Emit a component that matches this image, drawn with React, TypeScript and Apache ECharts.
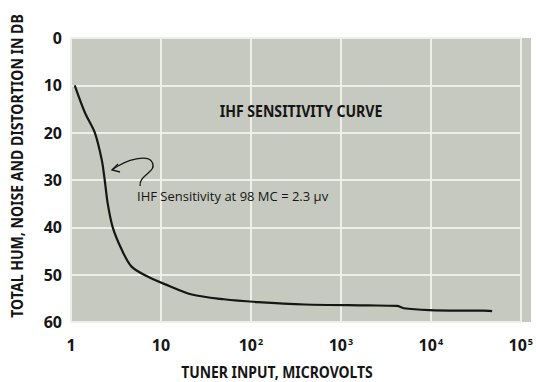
import React, { useEffect, useRef } from "react";
import * as echarts from "echarts";

const inputMicrovolts = [1.1, 1.43, 1.84, 2.2, 2.37, 2.56, 2.91, 3.66, 4.71, 7.1, 11, 22, 50, 120, 400, 2000, 4200, 5000, 9600, 20000, 38000, 48000];
const distortionDb = [10, 15.8, 20, 25.8, 30, 35, 40, 44.7, 48.3, 50.4, 52, 54.2, 55.2, 55.8, 56.3, 56.5, 56.6, 57.1, 57.5, 57.6, 57.6, 57.7];
const yTicks = [0, 10, 20, 30, 40, 50, 60];
const xTicks = [1, 10, 100, 1000, 10000, 100000];

const yTitle = "TOTAL HUM, NOISE AND DISTORTION IN DB";
const xTitle = "TUNER INPUT, MICROVOLTS";
const heading = "IHF SENSITIVITY CURVE";
const note = "IHF Sensitivity at 98 MC = 2.3 \u03bcv";

const BOLD = '"Noto Sans", "Open Sans", "DejaVu Sans", sans-serif';
const INK = "#151515";
const PAPER = "#c6c9c0";

export default function App() {
  const ref = useRef<HTMLDivElement>(null);
  useEffect(() => {
    if (!ref.current) return;
    const chart = echarts.init(ref.current, null, { renderer: "svg" });
    chart.setOption({
      animation: false,
      backgroundColor: "#ffffff",
      grid: {
        left: 71,
        top: 38,
        right: 11,
        bottom: 60,
        show: true,
        backgroundColor: PAPER,
        borderWidth: 0,
      },
      xAxis: {
        type: "log",
        logBase: 10,
        min: xTicks[0],
        max: xTicks[xTicks.length - 1],
        axisLine: { show: false },
        axisTick: { show: false },
        splitLine: { show: true, lineStyle: { color: "#efefe9", width: 2 } },
        minorSplitLine: { show: false },
        axisLabel: {
          margin: 15,
          color: INK,
          fontFamily: BOLD,
          fontWeight: "bold",
          fontSize: 16,
          formatter: (v: number) => {
            const e = Math.round(Math.log10(v));
            if (e === 0) return "1";
            if (e === 1) return "10";
            return "10{s|" + e + "}";
          },
          rich: {
            s: { fontSize: 9, fontFamily: BOLD, fontWeight: "bold", color: INK, verticalAlign: "top", padding: [0, 0, 6, 1] },
          },
        },
      },
      yAxis: {
        type: "value",
        inverse: true,
        min: yTicks[0],
        max: yTicks[yTicks.length - 1],
        interval: 10,
        axisLine: { show: false },
        axisTick: { show: false },
        splitLine: { show: true, lineStyle: { color: "#efefe9", width: 2 } },
        axisLabel: {
          margin: 9,
          color: INK,
          fontFamily: BOLD,
          fontWeight: "bold",
          fontSize: 16,
        },
      },
      series: [
        {
          type: "line",
          data: inputMicrovolts.map((x, i) => [x, distortionDb[i]]),
          smooth: 0.3,
          symbol: "none",
          lineStyle: { color: INK, width: 2.2 },
          z: 5,
        },
      ],
      graphic: [
        { type: "rect", z: -1, shape: { x: 520, y: 38, width: 11, height: 284 }, style: { fill: PAPER } },
        {
          type: "text",
          x: 17,
          y: 166,
          rotation: Math.PI / 2,
          scaleX: 0.88,
          style: {
            text: yTitle,
            fill: INK,
            font: "bold 16px " + BOLD,
            align: "center",
            verticalAlign: "middle",
          },
        },
        {
          type: "text",
          x: 277,
          y: 372,
          scaleX: 0.87,
          style: {
            text: xTitle,
            fill: INK,
            font: "bold 16px " + BOLD,
            align: "center",
            verticalAlign: "middle",
          },
        },
        {
          type: "text",
          x: 301,
          y: 111,
          z: 10,
          scaleX: 0.88,
          style: {
            text: heading,
            fill: INK,
            font: "bold 16px " + BOLD,
            align: "center",
            verticalAlign: "middle",
          },
        },
        {
          type: "text",
          x: 137,
          y: 196,
          z: 10,
          style: {
            text: note,
            fill: INK,
            font: '13px "Open Sans", "DejaVu Sans", sans-serif',
            align: "left",
            verticalAlign: "middle",
          },
        },
        {
          type: "bezierCurve",
          z: 10,
          shape: { x1: 140, y1: 186, cpx1: 139, cpy1: 174, cpx2: 158, cpy2: 172, x2: 152, y2: 162 },
          style: { stroke: INK, lineWidth: 1.3, fill: "none" },
        },
        {
          type: "bezierCurve",
          z: 10,
          shape: { x1: 152, y1: 162, cpx1: 148, cpy1: 155, cpx2: 128, cpy2: 158, x2: 112, y2: 170 },
          style: { stroke: INK, lineWidth: 1.3, fill: "none" },
        },
        {
          type: "polyline",
          z: 10,
          shape: { points: [[118, 164], [112, 170], [120, 172]] },
          style: { stroke: INK, lineWidth: 1.3, fill: "none" },
        },
      ],
    });
    return () => chart.dispose();
  }, []);
  return <div ref={ref} style={{ width: 536, height: 382, position: "absolute", left: 0, top: 0 }} />;
}
